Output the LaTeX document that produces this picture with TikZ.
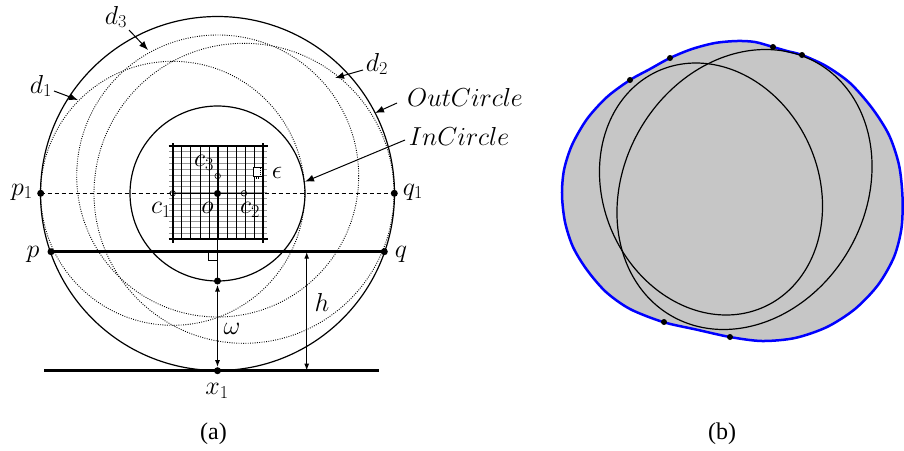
\RequirePackage{fix-cm}
\documentclass[tikz,border=0pt]{standalone}
\usepackage{fontspec}
\newfontfamily\capfont{Liberation Serif}
\usetikzlibrary{arrows.meta}
\definecolor{hullgray}{RGB}{198,198,198}
\definecolor{hullblue}{RGB}{0,0,255}
\begin{document}
\begin{tikzpicture}[x=1pt,y=-1pt,
  lab/.style={font=\fontsize{26}{30}\selectfont, inner sep=0pt},
  smalllab/.style={font=\fontsize{26}{30}\selectfont, inner sep=0pt},
  captext/.style={font=\capfont\fontsize{24}{28}\selectfont, inner sep=0pt},
  dotnode/.style={circle, fill=black, inner sep=0pt, minimum size=7pt},
  hulldot/.style={circle, fill=black, inner sep=0pt, minimum size=6pt},
  hollow/.style={circle, draw=black, line width=0.6pt, inner sep=0pt, minimum size=5.5pt},
  circ/.style={line width=1.2pt},
  dotc/.style={line width=0.9pt, dash pattern=on 0.9pt off 1.4pt},
  dashline/.style={line width=0.9pt, dash pattern=on 4pt off 3pt},
  ptr/.style={-{Latex[length=9pt,width=7pt]}, line width=1pt},
  dimarrow/.style={{Latex[length=7pt,width=5pt]}-{Latex[length=7pt,width=5pt]}, line width=1.5pt},
  heavy/.style={line width=2.5pt},
  gridgray/.style={line width=0.9pt, black!40},
  gridblack/.style={line width=0.7pt, black},
  gridbold/.style={line width=2pt, black},
  outlineb/.style={line width=1.2pt},
]
\useasboundingbox (0,0) rectangle (904,450);

% ---------------- (a) ----------------
\coordinate (O) at (217.5,193.5);
\coordinate (C1) at (172.7,193.3);
\coordinate (C2) at (244,193.3);
\coordinate (C3) at (217.7,176);

% circles
\draw[circ] (O) circle[radius=177pt];
\draw[circ] (O) circle[radius=87.5pt];
\draw[dotc] (C1) circle[radius=132pt];
\draw[dotc] (C2) circle[radius=150pt];
\draw[dotc] (C3) circle[radius=141pt];

% grid
\foreach \j in {1,...,15} {
  \draw[gridgray] (169,{146+\j*5.83}) -- (267,{146+\j*5.83});
}
\foreach \i in {1,...,9} {
  \draw[gridblack] ({172.7+\i*9.06},146) -- ({172.7+\i*9.06},239.3);
}
\draw[gridbold] (172.7,143) -- (172.7,242.5);
\draw[gridbold] (263.3,143) -- (263.3,242.5);
\draw[gridbold] (168.5,146) -- (267.5,146);
\draw[gridbold] (168.5,239.3) -- (267.5,239.3);
\draw[line width=1.2pt] (217.5,146) -- (217.5,239.3);
\draw[line width=1.2pt] (172.7,193.3) -- (263.3,193.3);

% epsilon cell marker
\draw[line width=0.8pt, fill=white] (253.5,167.5) rectangle (262.5,176.5);
\draw[line width=1.6pt, dash pattern=on 1pt off 1pt] (260.5,167.5) -- (260.5,176.5);
\draw[line width=1.6pt, dash pattern=on 1pt off 1pt] (254,178) -- (260,178);

% dashed diameter and chords
\node[dotnode] (p1) at (40.7,193.3) {};
\node[dotnode] (q1) at (394.3,193.3) {};
\draw[dashline] (p1.center) -- (q1.center);
\node[dotnode] (p) at (51,251.7) {};
\node[dotnode] (q) at (384.3,251.7) {};
\draw[heavy] (p.center) -- (q.center);
\coordinate (bl) at (44.3,370.7);
\coordinate (br) at (379,370.7);
\draw[heavy] (bl) -- (br);

% perpendicular and right angle
\node[dotnode] (ib) at (217.5,281) {};
\draw[line width=0.6pt] (217.5,239.3) -- (ib.center);
\draw[line width=0.8pt] (208.5,251.7) -- (208.5,260.7) -- (217.5,260.7);

\node[dotnode] (x1) at (217.5,370.7) {};
\node[dotnode] (o) at (O) {};
\node[hollow] (c1) at (C1) {};
\node[hollow] (c2) at (C2) {};
\node[hollow] (c3) at (C3) {};

% dimension arrows
\draw[dimarrow, shorten <=3.5pt, shorten >=3.5pt] (ib.center) -- (x1.center);
\coordinate (ht) at (306.7,251.7);
\coordinate (hb) at (306.7,370.7);
\draw[dimarrow] (ht) -- (hb);

% labels
\node[lab] (d3l) at (116,17) {$d_3$};
\node[lab] (d1l) at (41,86) {$d_1$};
\node[lab] (d2l) at (377,64) {$d_2$};
\node[lab] (outl) at (465,97) {$OutCircle$};
\node[lab] (inl) at (459,136) {$InCircle$};
\node[smalllab] (epsl) at (277,173) {$\epsilon$};
\node[smalllab] (c3l) at (204,163) {$c_3$};
\node[smalllab] (c1l) at (161,210) {$c_1$};
\node[smalllab] (ol) at (207.5,208) {$o$};
\node[smalllab] (c2l) at (250,210) {$c_2$};
\node[lab] (p1l) at (22,192) {$p_1$};
\node[lab] (q1l) at (413,192) {$q_1$};
\node[lab] (pl) at (33,254) {$p$};
\node[lab] (ql) at (401,254) {$q$};
\node[lab] (hl) at (322,302) {$h$};
\node[lab] (wl) at (232,329) {$\omega$};
\node[lab] (x1l) at (217,391) {$x_1$};
\node[captext] (capa) at (213.5,434) {(a)};

% pointer arrows
\coordinate (d3s) at (129,30);
\coordinate (d3e) at (148,50);
\draw[ptr] (d3s) -- (d3e);
\coordinate (d1s) at (54,91);
\coordinate (d1e) at (78,100);
\draw[ptr] (d1s) -- (d1e);
\coordinate (d2s) at (363,70);
\coordinate (d2e) at (335,78);
\draw[ptr] (d2s) -- (d2e);
\coordinate (outs) at (397,103);
\coordinate (oute) at (375,113);
\draw[ptr] (outs) -- (oute);
\coordinate (ins) at (405,140);
\coordinate (ine) at (305,181.7);
\draw[ptr] (ins) -- (ine);

% ---------------- (b) ----------------
\filldraw[fill=hullgray, draw=hullblue, line width=2.5pt]
  plot[smooth cycle, tension=0.5] coordinates {
    (630,80) (607,97) (587,119) (572,145) (564,170) (562,195) (565,222)
    (573,247) (587,270) (606,292) (630,309) (663,322) (696,329.5) (730,337)
    (762,341) (795,338) (827,327) (855,309) (878,285) (894,257) (901.5,228)
    (902.5,197) (899,165) (889,135) (872,108) (850,83) (826,66) (802,55)
    (787,51) (773,47) (755,42) (737,41) (715,43) (692,49) (670,58) (650,69)
  };

% shape A (sheared ellipse)
\draw[outlineb] plot[domain=0:360, samples=144, smooth cycle]
  ({711 + 110.5*cos(\x) + 0.12*126*sin(\x)}, {189 + 126*sin(\x)});

% shape B (sheared ellipse)
\draw[outlineb] plot[domain=0:360, samples=144, smooth cycle]
  ({744.5 + 125.8*cos(\x) - 0.15*140*sin(\x)}, {189.5 + 140*sin(\x)});

\node[hulldot] (h1) at (630,80) {};
\node[hulldot] (h2) at (670,58) {};
\node[hulldot] (h3) at (773,47) {};
\node[hulldot] (h4) at (802,55) {};
\node[hulldot] (h5) at (664,322) {};
\node[hulldot] (h6) at (730,337) {};

\node[captext] (capb) at (722,434) {(b)};
\end{tikzpicture}
\end{document}
